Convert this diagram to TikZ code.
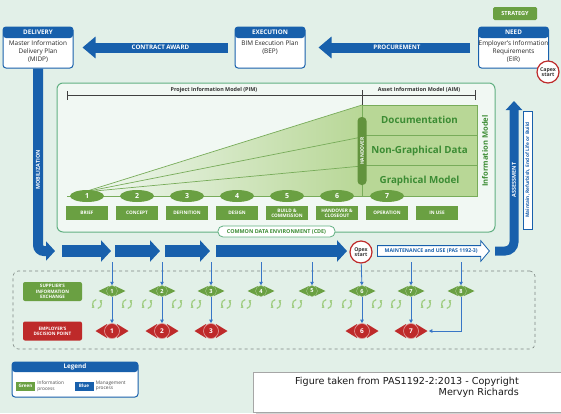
\documentclass[tikz,border=0pt]{standalone}
\usepackage{fontspec}
\setmainfont{Open Sans}
\newfontfamily\creditfont{DejaVu Sans}
\usetikzlibrary{positioning,arrows.meta,shapes.arrows,shapes.geometric,shadows}
\definecolor{bluemain}{RGB}{24,96,172}
\definecolor{linkblue}{RGB}{56,118,198}
\definecolor{greenmain}{RGB}{106,160,66}
\definecolor{redmain}{RGB}{190,42,42}
\definecolor{bgmint}{RGB}{226,240,232}
\definecolor{cdefill}{RGB}{241,248,243}
\definecolor{cdeline}{RGB}{98,176,130}
\definecolor{modelfill}{RGB}{184,215,150}
\definecolor{modelline}{RGB}{120,172,90}
\definecolor{modeltext}{RGB}{60,140,52}
\definecolor{cycgreen}{RGB}{160,205,130}
\definecolor{dashgray}{RGB}{125,135,130}

\tikzset{
  docbox/.style={draw=bluemain, line width=1pt, fill=white, rounded corners=3pt,
    minimum width=70pt, minimum height=41pt, inner sep=0pt,
    path picture={\fill[bluemain] (path picture bounding box.north west)
      rectangle ([yshift=-#1]path picture bounding box.north east);}},
  docbox/.default=11pt,
  hdtext/.style={text=white, inner sep=0pt, font=\fontsize{6.3}{7}\selectfont\bfseries},
  doctext/.style={align=center, inner sep=0pt, text=black!85, font=\fontsize{6.4}{8}\selectfont},
  bigarrow/.style={draw=bluemain, line width=10pt, -{Triangle[length=13pt,width=21pt]}},
  mgmt/.style={draw=bluemain, line width=12pt, -{Triangle[length=10pt,width=21pt]}},
  arrtext/.style={text=white, inner sep=0pt, font=\fontsize{6.2}{7}\selectfont\bfseries},
  startcirc/.style={circle, draw=redmain, line width=1.2pt, fill=white, minimum size=22pt,
    inner sep=0pt, align=center, text=black!80, font=\fontsize{5.2}{5.6}\selectfont\bfseries},
  stage/.style={ellipse, fill=greenmain, minimum width=34pt, minimum height=12pt, inner sep=0pt,
    text=white, font=\fontsize{7}{7}\selectfont\bfseries},
  stagebox/.style={fill=greenmain, minimum width=42pt, minimum height=14pt, inner sep=0pt,
    text=white, align=center, font=\fontsize{4.7}{5.2}\selectfont\bfseries},
  pimline/.style={draw=black!75, line width=0.6pt},
  pimtext/.style={inner sep=0pt, text=black!80, font=\fontsize{5.4}{6}\selectfont\bfseries},
  modelrow/.style={fill=modelfill, draw=modelline, line width=0.6pt, minimum width=115pt,
    minimum height=30.3pt, inner sep=0pt, text=modeltext, font=\fontsize{9.8}{10}\selectfont\bfseries},
  wedgeline/.style={draw=modelline, line width=0.7pt},
  gmark/.style={circle, fill=greenmain, draw=white!40!greenmain, line width=0.4pt, minimum size=11pt,
    inner sep=0pt, text=white, font=\fontsize{5.6}{6}\selectfont\bfseries},
  rmark/.style={circle, fill=redmain, draw=white!55!redmain, line width=0.6pt, minimum size=15pt,
    inner sep=0pt, text=white, font=\fontsize{6.5}{7}\selectfont\bfseries},
  infolink/.style={draw=linkblue, line width=0.8pt, -{Triangle[length=3.5pt,width=3.5pt]}},
  cycicon/.style={draw=cycgreen, line width=1.2pt, -{Triangle[length=2.2pt,width=3.6pt]}},
  sidebox/.style={rounded corners=2pt, minimum width=59pt, minimum height=19pt, inner sep=0pt,
    text=white, align=center, font=\fontsize{4.6}{5.2}\selectfont\bfseries},
  legtag/.style={minimum width=19pt, minimum height=9pt, inner sep=0pt, text=white,
    font=\fontsize{4.6}{5}\selectfont\bfseries},
  legtext/.style={align=left, inner sep=0pt, text=black!70, font=\fontsize{4.8}{5.6}\selectfont},
}

\begin{document}
\begin{tikzpicture}[x=1pt,y=-1pt]
\useasboundingbox (0,0) rectangle (561,413);
\fill[bgmint] (0,0) rectangle (561,413);

% delivery, execution, need
\node[docbox] (delivery) at (38,47.5) {};
\node[hdtext] (deliveryhd) at ([yshift=-5.5pt]delivery.north) {DELIVERY};
\node[doctext, anchor=north] (midp) at ([yshift=-14pt]delivery.north) {Master Information\\Delivery Plan\\(MIDP)};
\node[docbox] (execution) at (270,47.5) {};
\node[hdtext] (executionhd) at ([yshift=-5.5pt]execution.north) {EXECUTION};
\node[doctext, anchor=north] (bep) at ([yshift=-14pt]execution.north) {BIM Execution Plan\\(BEP)};
\node[docbox] (need) at (513.5,47.5) {};
\node[hdtext] (needhd) at ([yshift=-5.5pt]need.north) {NEED};
\node[doctext, anchor=north] (eir) at ([yshift=-14pt]need.north) {Employer's Information\\Requirements\\(EIR)};
\node[fill=greenmain, rounded corners=1.5pt, minimum width=44pt, minimum height=13pt, inner sep=0pt,
  text=white, font=\fontsize{5.6}{6}\selectfont\bfseries] (strategy) at (515,13.5) {STRATEGY};
\node[startcirc] (capex) at (548,72) {Capex\\start};

\draw[bigarrow, shorten <=7pt, shorten >=9pt] (execution) -- node[arrtext, pos=0.46] (award) {CONTRACT AWARD} (delivery);
\draw[bigarrow, shorten <=8pt, shorten >=13pt] (need) -- node[arrtext, pos=0.47] (procure) {PROCUREMENT} (execution);

% mobilization
\coordinate (mobend) at (55,251);
\draw[draw=bluemain, line width=10pt, rounded corners=6pt, -{Triangle[length=9pt,width=19pt]}] (delivery.south) |- (mobend);
\node[arrtext, rotate=90, font=\fontsize{5.4}{6}\selectfont\bfseries] (mobtext) at (38,170) {MOBILIZATION};

% common data environment
\node[draw=cdeline, line width=1pt, fill=cdefill, rounded corners=6pt, minimum width=438pt, minimum height=149pt] (cde) at (276,157.5) {};
\node[draw=cdeline, line width=0.8pt, fill=white, rounded corners=5pt, minimum width=117pt, minimum height=11pt, inner sep=0pt,
  text=modeltext, font=\fontsize{5.4}{6}\selectfont\bfseries] (cdetag) at (276.5,231.5) {COMMON DATA ENVIRONMENT (CDE)};

\draw[pimline] (67,91) -- (67,100) (67,95) -- (475,95) (362,90) -- (362,105) (475,90) -- (475,100);
\node[pimtext] (pim) at (214,90) {Project Information Model (PIM)};
\node[pimtext] (aim) at (419,90) {Asset Information Model (AIM)};

\coordinate (apex) at (84,192);
\shade[left color=cdefill, right color=modelfill] (apex) -- (362,105) -- (362,196) -- (84,196) -- cycle;
\foreach \y in {105,137,166}
  \draw[wedgeline] (apex) -- (362,\y);
\draw[wedgeline] (67,196) -- (362,196);

\node[modelrow] (docu) at (419.5,120.2) {Documentation};
\node[modelrow] (nongraph) at (419.5,150.5) {Non-Graphical Data};
\node[modelrow] (graph) at (419.5,180.8) {Graphical Model};
\node[rotate=90, inner sep=0pt, text=modeltext, font=\fontsize{7.6}{8}\selectfont\bfseries] (infomodel) at (485,151) {Information Model};
\node[rotate=90, fill=greenmain!92!black, rounded corners=4pt, minimum width=68pt, minimum height=9pt, inner sep=0pt,
  text=white, font=\fontsize{4.9}{5}\selectfont\bfseries] (handover) at (362,151) {HANDOVER};

\foreach \n in {1,...,7}
  \node[stage] (st\n) at ({37+50*\n},196) {\n};
\foreach \t [count=\n] in {BRIEF,CONCEPT,DEFINITION,DESIGN,{BUILD \&\\COMMISSION},{HANDOVER \&\\CLOSEOUT},OPERATION,IN USE}
  \node[stagebox] (lb\n) at ({37+50*\n},213) {\t};

% assessment
\coordinate (assbase) at (495,251);
\coordinate (asstip) at (514,101);
\draw[draw=bluemain, line width=9pt, rounded corners=9pt, -{Triangle[length=9pt,width=16pt]}] (assbase) -| (asstip);
\node[arrtext, rotate=90, font=\fontsize{5.4}{6}\selectfont\bfseries] (assess) at (514,180) {ASSESSMENT};
\node[draw=bluemain, line width=0.7pt, fill=white, rotate=90, minimum width=118pt, minimum height=9pt, inner sep=0pt,
  text=bluemain, font=\fontsize{4.8}{5}\selectfont\bfseries] (maintain) at (527.5,170) {Maintain, Refurbish, End of Life or Build};

% management row
\foreach \a/\b in {62/111,115/160,165/210,216/347}
  \draw[mgmt] (\a,251) -- (\b,251);
\node[startcirc] (opex) at (361,252) {Opex\\start};
\node[single arrow, draw=bluemain, line width=0.8pt, fill=white, minimum height=112pt, single arrow head extend=5pt,
  single arrow tip angle=100, inner xsep=2pt, inner ysep=2.6pt, anchor=tail,
  text=bluemain, font=\fontsize{5.2}{5.5}\selectfont\bfseries] (maint) at (377,251) {MAINTENANCE and USE (PAS 1192-3)};

% decision points
\node[draw=dashgray, dashed, line width=0.6pt, rounded corners=5pt, minimum width=522pt, minimum height=78pt] (decision) at (274,310) {};
\node[sidebox, fill=greenmain] (supplier) at (52.5,291.5) {SUPPLIER'S\\INFORMATION\\EXCHANGE};
\node[sidebox, fill=redmain] (employer) at (52.5,331) {EMPLOYER'S\\DECISION POINT};

\foreach \n/\x in {1/112,2/162,3/211,4/261,5/312,6/362,7/411,8/461} {
  \fill[greenmain] (\x-3,286) -- (\x-13.5,291) -- (\x-3,296) -- cycle;
  \fill[greenmain] (\x+3,286) -- (\x+13.5,291) -- (\x+3,296) -- cycle;
  \node[gmark] (g\n) at (\x,291) {\n};
}
\foreach \n/\x in {1/112,2/162,3/211,6/362,7/411} {
  \fill[redmain] (\x-5,324) -- (\x-16.5,331) -- (\x-5,338) -- cycle;
  \fill[redmain] (\x+5,324) -- (\x+16.5,331) -- (\x+5,338) -- cycle;
  \node[rmark] (r\n) at (\x,331) {\n};
}
\foreach \x in {97,127,147,177,196,226,246,276,297,327,347,377,396,426,446} {
  \draw[cycicon] ([shift={(100:4.5pt)}]\x,304) arc[start angle=100, end angle=235, radius=4.5pt];
  \draw[cycicon] ([shift={(280:4.5pt)}]\x,304) arc[start angle=280, end angle=415, radius=4.5pt];
}

\foreach \n/\x in {1/112,2/162,3/211,4/261,5/312,7/411,8/461} {
  \coordinate (t\n) at (\x,262);
  \draw[infolink] (t\n) -- (g\n);
}
\draw[infolink] (opex) -- (g6);
\foreach \n in {1,2,3,6,7}
  \draw[infolink] (g\n) -- (r\n);
\draw[infolink] (g8) |- ([xshift=10pt]r7.east);

% legend
\node[docbox=10pt, minimum width=126pt, minimum height=35pt] (legend) at (75,379.5) {};
\node[hdtext] (legendhd) at ([yshift=-5pt]legend.north) {Legend};
\node[legtag, fill=greenmain] (greentag) at (25.5,386) {Green};
\node[legtext, right=2pt of greentag] (infoproc) {Information\\process};
\node[legtag, fill=bluemain] (bluetag) at (84,386) {Blue};
\node[legtext, right=2pt of bluetag] (mgmtproc) {Management\\process};

% credit
\node[draw=gray!70, fill=white, drop shadow={opacity=0.35}, minimum width=320pt, minimum height=40pt, anchor=north west] (credit) at (253,372) {};
\node[align=right, anchor=north east, inner sep=0pt, text=black!90, font=\creditfont\fontsize{9.6}{11}\selectfont] (credittext) at (519,377) {Figure taken from PAS1192-2:2013 - Copyright\\Mervyn Richards};
\end{tikzpicture}
\end{document}
